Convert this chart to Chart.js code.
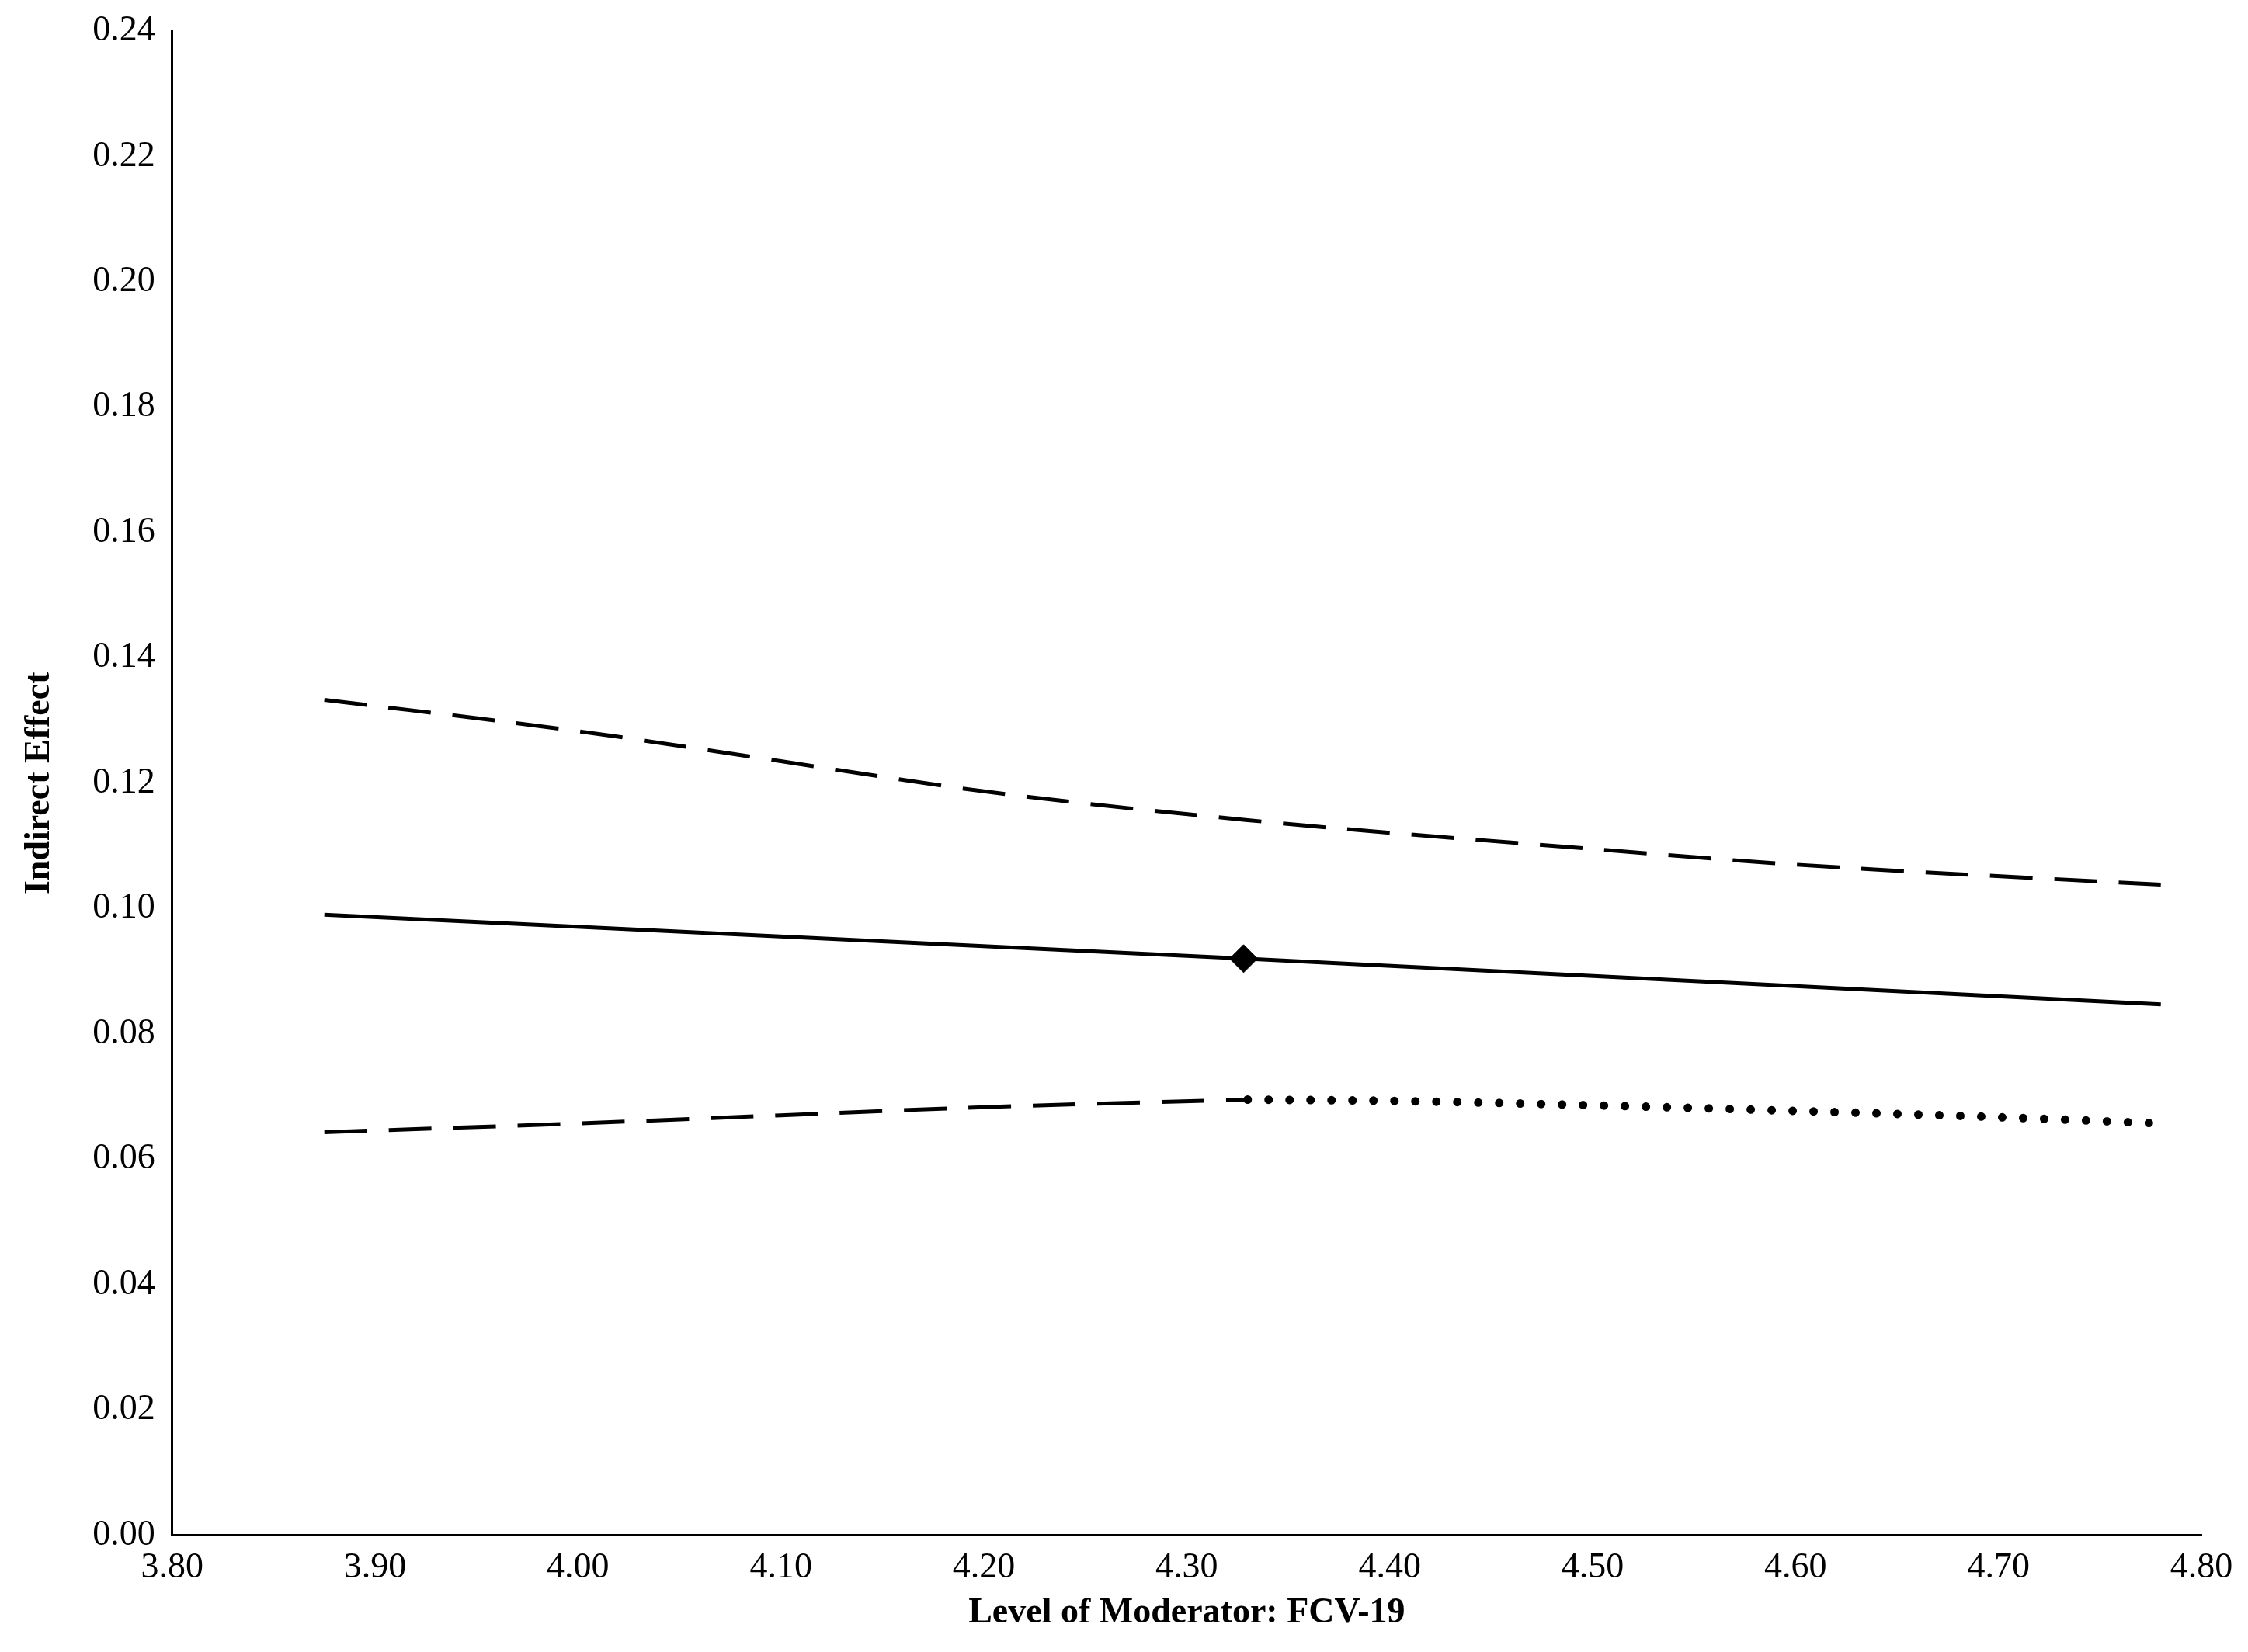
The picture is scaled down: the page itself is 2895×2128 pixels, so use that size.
<!DOCTYPE html>
<html><head><meta charset="utf-8">
<script src="https://cdn.jsdelivr.net/npm/chart.js@4"></script>
<style>html,body{margin:0;padding:0;background:#fff}#w{width:2895px;height:2128px}</style>
</head><body><div id="w"><canvas id="c"></canvas></div>
<script>
const upperX=[3.875,4.0,4.1,4.2,4.33,4.5,4.6,4.78];
const upperY=[0.1333,0.1283,0.1235,0.1187,0.1141,0.1095,0.1070,0.1038];
const effX=[3.875,4.328,4.78];
const effY=[0.0990,0.0920,0.0847];
const lowX=[3.875,4.0,4.1,4.2,4.33];
const lowY=[0.0643,0.0657,0.0670,0.0683,0.0695];
const dotX=[4.33,4.4,4.5,4.6,4.7,4.78];
const dotY=[0.0695,0.0693,0.0686,0.0677,0.0667,0.0657];
const markX=[4.328], markY=[0.0920];
const pts=(xs,ys)=>xs.map((x,i)=>({x:x,y:ys[i]}));
const font={family:'"Liberation Serif","Times New Roman",serif',size:46};
new Chart(document.getElementById('c'),{
 type:'scatter',
 data:{datasets:[
  {data:pts(upperX,upperY),showLine:true,borderColor:'#000',borderWidth:5,borderDash:[55,28],pointRadius:0,cubicInterpolationMode:'monotone'},
  {data:pts(effX,effY),showLine:true,borderColor:'#000',borderWidth:5,pointRadius:0},
  {data:pts(lowX,lowY),showLine:true,borderColor:'#000',borderWidth:5,borderDash:[55,28],pointRadius:0,cubicInterpolationMode:'monotone'},
  {data:pts(dotX,dotY),showLine:true,borderColor:'#000',borderWidth:11,borderDash:[0,27],borderCapStyle:'round',pointRadius:0,cubicInterpolationMode:'monotone'},
  {data:pts(markX,markY),showLine:false,pointStyle:'rectRot',pointRadius:18,backgroundColor:'#000',borderColor:'#000'}
 ]},
 options:{responsive:true,maintainAspectRatio:false,animation:false,
  layout:{padding:{top:40,right:60,bottom:18,left:20}},
  plugins:{legend:{display:false},tooltip:{enabled:false}},
  scales:{
   x:{type:'linear',min:3.8,max:4.8,grid:{display:false,drawTicks:true,tickLength:12},border:{color:'#000',width:3},
      ticks:{stepSize:0.1,color:'#000',font:font,callback:v=>v.toFixed(2)},
      title:{display:true,text:'Level of Moderator: FCV-19',color:'#000',font:{family:font.family,size:46,weight:'bold'},padding:{top:0}}},
   y:{min:0,max:0.24,grid:{display:false,tickLength:12},border:{color:'#000',width:3},
      ticks:{stepSize:0.02,color:'#000',font:font,padding:10,callback:v=>v.toFixed(2)},
      title:{display:true,text:'Indirect Effect',color:'#000',font:{family:font.family,size:46,weight:'bold'},padding:{bottom:30}}}
  }}
});
</script></body></html>
